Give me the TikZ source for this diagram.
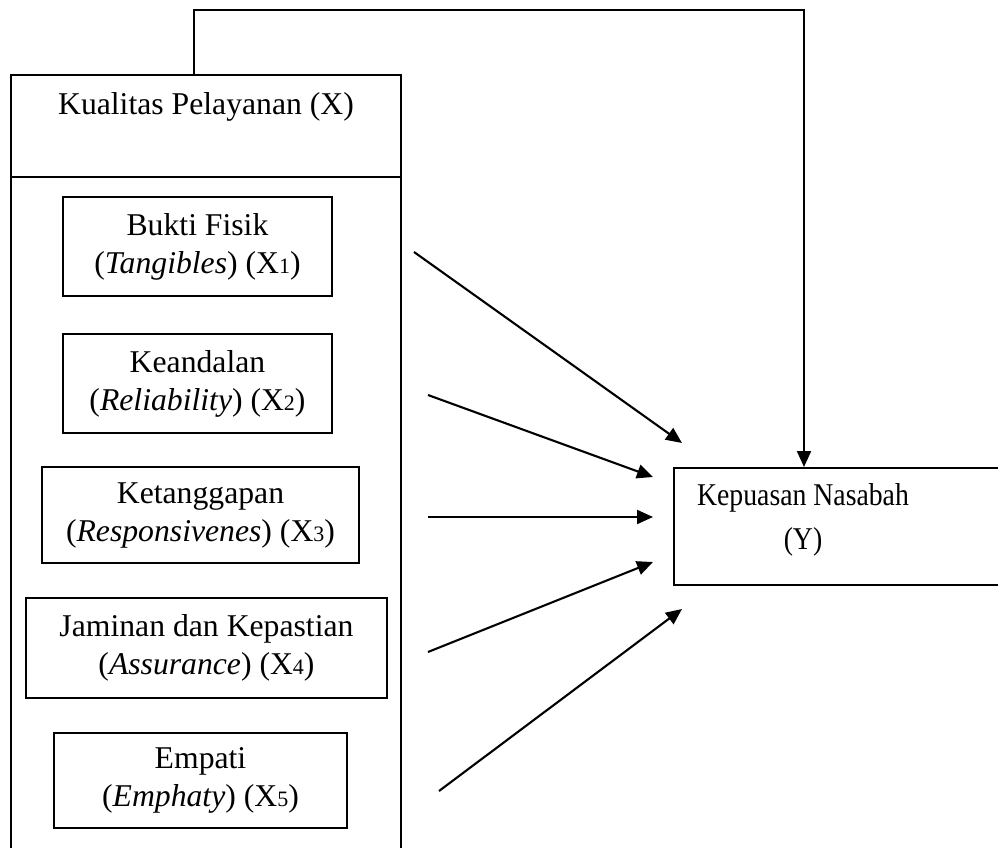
\documentclass[tikz,border=0pt]{standalone}
\usepackage{fontspec}
\setmainfont{Liberation Serif}
\usepackage{graphicx}
\usetikzlibrary{arrows.meta}
\newcommand{\smdig}[1]{{\fontsize{22}{22}\selectfont #1}}
\newcommand{\narrow}[1]{\scalebox{0.875}[1]{#1}}
\begin{document}
\begin{tikzpicture}[x=1pt,y=-1pt,
  every node/.style={font=\fontsize{31.7}{38}\selectfont},
  ibox/.style={draw, line width=2pt, inner sep=0pt, align=center},
  txt/.style={inner sep=0pt, align=center},
  arr/.style={line width=2.1pt, -{Triangle[length=16pt,width=14pt]}}]
\clip (0,0) rectangle (998,848);
% outer box
\node[ibox, minimum width=390pt, minimum height=102pt, anchor=north west] (hdr) at (10,74) {};
\node[ibox, minimum width=390pt, minimum height=700pt, anchor=north west] (body) at (10,176) {};
\node[txt, anchor=base] (kx) at (206,115) {Kualitas Pelayanan (X)};
% inner boxes
\node[ibox, minimum width=269pt, minimum height=99pt] (b1) at (197.5,246.5) {Bukti Fisik\\(\textit{Tangibles}) (X\smdig{1})};
\node[ibox, minimum width=269pt, minimum height=99pt] (b2) at (197.5,383.5) {Keandalan\\(\textit{Reliability}) (X\smdig{2})};
\node[ibox, minimum width=317pt, minimum height=96pt] (b3) at (200.5,515) {Ketanggapan\\(\textit{Responsivenes}) (X\smdig{3})};
\node[ibox, minimum width=361pt, minimum height=100pt] (b4) at (206.5,648) {Jaminan dan Kepastian\\(\textit{Assurance}) (X\smdig{4})};
\node[ibox, minimum width=293pt, minimum height=95pt] (b5) at (200.5,780.5) {Empati\\(\textit{Emphaty}) (X\smdig{5})};
% dependent variable box
\node[ibox, minimum width=427pt, minimum height=117pt, anchor=north west] (ybox) at (673,467) {};
\node[txt, font=\fontsize{31.7}{44}\selectfont] (ytext) at (803,520) {\narrow{Kepuasan Nasabah}\\\narrow{(Y)}};
% arrow endpoints
\coordinate (s1) at (414,252); \coordinate (e1) at (682,443);
\coordinate (s2) at (428,395); \coordinate (e2) at (653,477);
\coordinate (s3) at (428,517); \coordinate (e3) at (653,517);
\coordinate (s4) at (428,652); \coordinate (e4) at (653,562);
\coordinate (s5) at (439,791); \coordinate (e5) at (682,609);
\foreach \i in {1,...,5} {\draw[arr] (s\i) -- (e\i);}
% top connector
\coordinate (c1) at (194,10);
\coordinate (c2) at (804,10);
\draw[arr] (hdr.north west -| c1) -- (c1) -- (c2) -- (c2 |- ybox.north);
\end{tikzpicture}
\end{document}
